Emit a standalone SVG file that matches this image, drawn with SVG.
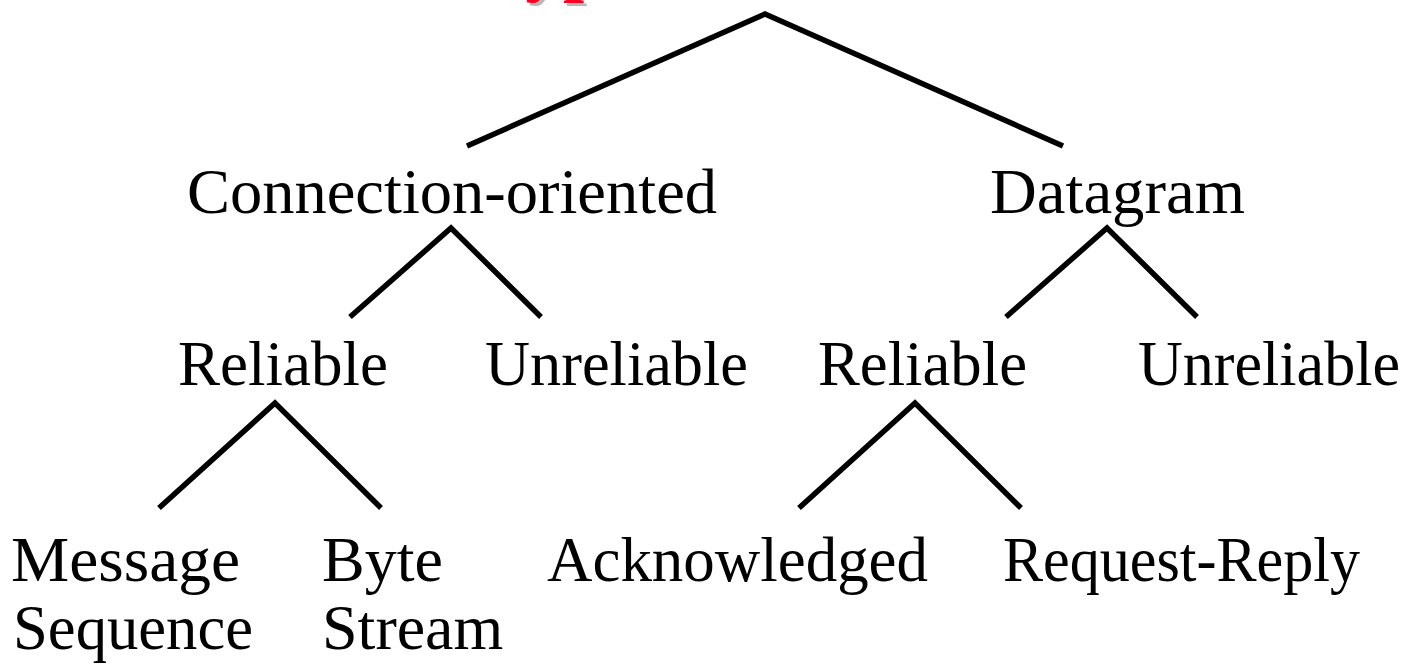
<svg xmlns="http://www.w3.org/2000/svg" width="1410" height="668" viewBox="0 0 1410 668">
<style>
.t{font-family:"Liberation Serif","Times New Roman",serif;font-size:64px;fill:#000}
.ttl{font-family:"Liberation Serif","Times New Roman",serif;font-size:76px;font-weight:bold}
.e{stroke:#000;stroke-width:5.5;fill:none;stroke-linecap:butt;stroke-linejoin:miter}
</style>
<rect width="1410" height="668" fill="#fff"/>
<g id="title">
<text class="ttl" x="483" y="-10" fill="#b8b8b8">Types</text>
<text class="ttl" x="480" y="-13" fill="#ff0022">Types</text>
</g>
<g id="connectors">
<polyline class="e" points="467,146 765,14 1063,146"/>
<polyline class="e" points="350,317 451,228 541,317"/>
<polyline class="e" points="1006,317 1107,228 1197,317"/>
<polyline class="e" points="159,508 275,403 381,508"/>
<polyline class="e" points="799,508 915,403 1021,508"/>
</g>
<g id="n-conn"><text class="t" x="187" y="213" textLength="530" lengthAdjust="spacingAndGlyphs">Connection-oriented</text></g>
<g id="n-dgram"><text class="t" x="990" y="213" textLength="255" lengthAdjust="spacingAndGlyphs">Datagram</text></g>
<g id="n-crel"><text class="t" x="178" y="385" textLength="210" lengthAdjust="spacingAndGlyphs">Reliable</text></g>
<g id="n-cunrel"><text class="t" x="485" y="385" textLength="263" lengthAdjust="spacingAndGlyphs">Unreliable</text></g>
<g id="n-drel"><text class="t" x="818" y="385" textLength="209" lengthAdjust="spacingAndGlyphs">Reliable</text></g>
<g id="n-dunrel"><text class="t" x="1138" y="385" textLength="262" lengthAdjust="spacingAndGlyphs">Unreliable</text></g>
<g id="n-msgseq"><text class="t" x="11" y="581" textLength="229" lengthAdjust="spacingAndGlyphs">Message</text><text class="t" x="13" y="649" textLength="240" lengthAdjust="spacingAndGlyphs">Sequence</text></g>
<g id="n-bytestream"><text class="t" x="322" y="581">Byte</text><text class="t" x="322" y="649">Stream</text></g>
<g id="n-ack"><text class="t" x="547" y="581" textLength="381" lengthAdjust="spacingAndGlyphs">Acknowledged</text></g>
<g id="n-reqrep"><text class="t" x="1003" y="581" textLength="357" lengthAdjust="spacingAndGlyphs">Request-Reply</text></g>
</svg>
